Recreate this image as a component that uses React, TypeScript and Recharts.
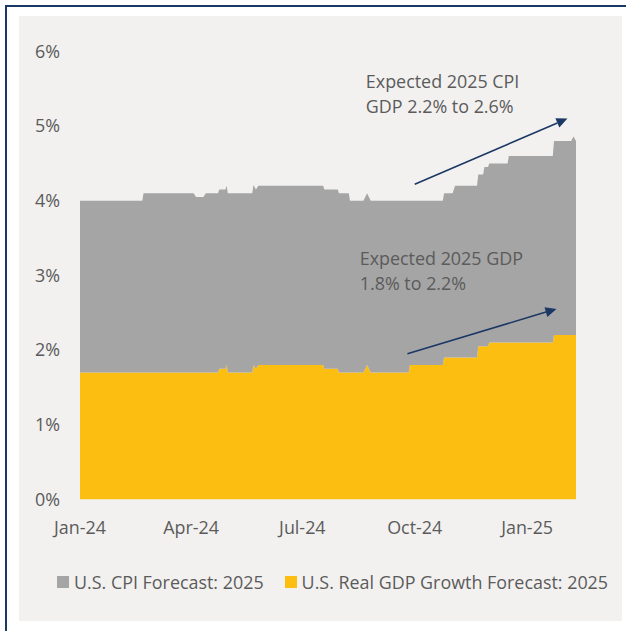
import React from 'react';
import { AreaChart, Area, XAxis, YAxis, Legend, ReferenceLine, ReferenceDot } from 'recharts';

// ---- data ----
const dates = [
  '2024-01-01', '2024-02-21', '2024-02-22', '2024-04-03', '2024-04-05', '2024-04-11', '2024-04-13',
  '2024-04-23', '2024-04-24', '2024-04-29', '2024-04-30', '2024-05-01', '2024-05-21', '2024-05-22',
  '2024-05-24', '2024-05-26', '2024-07-18', '2024-07-19', '2024-07-30', '2024-07-31', '2024-08-08',
  '2024-08-09', '2024-08-20', '2024-08-23', '2024-08-26', '2024-09-26', '2024-09-27', '2024-10-24',
  '2024-10-25', '2024-11-01', '2024-11-03', '2024-11-21', '2024-11-22', '2024-11-26', '2024-11-27',
  '2024-11-30', '2024-12-01', '2024-12-16', '2024-12-17', '2025-01-22', '2025-01-23', '2025-02-06',
  '2025-02-08', '2025-02-10',
];
const gdpForecast = [
  1.7, 1.7, 1.7, 1.7, 1.7, 1.7, 1.7,
  1.7, 1.75, 1.75, 1.8, 1.7, 1.7, 1.8,
  1.75, 1.8, 1.8, 1.75, 1.75, 1.7, 1.7,
  1.7, 1.7, 1.8, 1.7, 1.7, 1.8, 1.8,
  1.9, 1.9, 1.9, 1.9, 2.05, 2.05, 2.05,
  2.05, 2.1, 2.1, 2.1, 2.1, 2.2, 2.2,
  2.2, 2.2,
];
const cpiForecast = [
  2.3, 2.3, 2.4, 2.4, 2.35, 2.35, 2.4,
  2.4, 2.4, 2.4, 2.4, 2.4, 2.4, 2.41,
  2.4, 2.4, 2.4, 2.4, 2.4, 2.4, 2.4,
  2.3, 2.3, 2.3, 2.3, 2.3, 2.2, 2.2,
  2.2, 2.2, 2.3, 2.3, 2.3, 2.3, 2.4,
  2.4, 2.4, 2.4, 2.5, 2.5, 2.6, 2.6,
  2.66, 2.6,
];
const seriesNames = ['U.S. CPI Forecast: 2025', 'U.S. Real GDP Growth Forecast: 2025'];
const seriesColors = ['#A5A5A5', '#FDBE12'];
const tickDates = ['2024-01-01', '2024-04-01', '2024-07-01', '2024-10-01', '2025-01-01'];
const tickLabels = ['Jan-24', 'Apr-24', 'Jul-24', 'Oct-24', 'Jan-25'];
const yTicks = [0, 1, 2, 3, 4, 5, 6];
const xDomainDates = ['2024-01-01', '2025-02-10'];

const noteLines = [
  ['Expected 2025 CPI', 'GDP 2.2% to 2.6%'],
  ['Expected 2025 GDP', '1.8% to 2.2%'],
];
const noteDates = ['2024-08-22', '2024-08-17'];
const noteValues = [5.6, 3.22];
const arrowStartDates = ['2024-10-01', '2024-09-25'];
const arrowStartValues = [4.22, 1.95];
const arrowEndDates = ['2025-02-03', '2025-01-25'];
const arrowEndValues = [5.1, 2.55];

// ---- helpers ----
const ts = (d: string) => {
  const [y, m, day] = d.split('-').map(Number);
  return Date.UTC(y, m - 1, day);
};
const tableData = dates.map((d, i) => ({ t: ts(d), gdp: gdpForecast[i], cpi: cpiForecast[i] }));
const tickValues = tickDates.map(ts);
const tickText = (v: number) => {
  const i = tickValues.indexOf(v);
  return i >= 0 ? tickLabels[i] : '';
};

const TEXT = '#5B5B5B';
const NAVY = '#1B3764';
const FONT = "'Open Sans', 'Noto Sans', sans-serif";
const FS = 17.9;

const Arrow = (p: any) => {
  const { x1, y1, x2, y2 } = p;
  const dx = x2 - x1;
  const dy = y2 - y1;
  const len = Math.sqrt(dx * dx + dy * dy) || 1;
  const ux = dx / len;
  const uy = dy / len;
  const hl = 11;
  const hw = 5;
  const bx = x2 - ux * hl;
  const by = y2 - uy * hl;
  const pts = `${x2},${y2} ${bx - uy * hw},${by + ux * hw} ${bx + uy * hw},${by - ux * hw}`;
  return (
    <g>
      <line x1={x1} y1={y1} x2={bx} y2={by} stroke={NAVY} strokeWidth={1.6} />
      <polygon points={pts} fill={NAVY} />
    </g>
  );
};

const makeNote = (lines: string[]) => (p: any) => (
  <text x={p.cx} y={p.cy} fill={TEXT} fontSize={FS} fontFamily={FONT}>
    {lines.map((l, i) => (
      <tspan key={i} x={p.cx} dy={i === 0 ? '0.35em' : 25}>{l}</tspan>
    ))}
  </text>
);

const renderLegend = () => (
  <div style={{ display: 'flex', alignItems: 'center', fontFamily: FONT, fontSize: FS, color: TEXT, whiteSpace: 'nowrap' }}>
    {seriesNames.map((n, i) => (
      <div key={n} style={{ display: 'flex', alignItems: 'center', marginRight: 21 }}>
        <span style={{ display: 'inline-block', width: 12, height: 12, background: seriesColors[i], marginRight: 5 }} />
        <span>{n}</span>
      </div>
    ))}
  </div>
);

export default function App() {
  return (
    <div>
      <div style={{ position: 'fixed', left: 5, top: 5, width: 640, height: 640, borderTop: `2px solid ${NAVY}`, borderLeft: `2px solid ${NAVY}`, boxSizing: 'border-box' }} />
      <div style={{ position: 'fixed', left: 19, top: 16, width: 603, height: 605, background: '#F2F1F0' }} />
      <div style={{ position: 'fixed', left: 0, top: 0 }}>
        <AreaChart
          width={626}
          height={631}
          data={tableData}
          margin={{ top: 51.4, right: 50, bottom: 101.7, left: 0 }}
        >
          <XAxis
            dataKey="t"
            type="number"
            domain={xDomainDates.map(ts)}
            ticks={tickValues}
            tickFormatter={tickText}
            interval={0}
            axisLine={false}
            tickLine={false}
            tickSize={0}
            tickMargin={22}
            height={30}
            tick={{ fill: TEXT, fontSize: FS, fontFamily: FONT }}
          />
          <YAxis
            type="number"
            domain={[0, 6]}
            ticks={yTicks}
            tickFormatter={(v: number) => `${v}%`}
            interval={0}
            axisLine={false}
            tickLine={false}
            tickSize={0}
            tickMargin={20}
            width={80}
            tick={{ fill: TEXT, fontSize: FS, fontFamily: FONT }}
          />
          <Area
            type="linear"
            dataKey="gdp"
            name={seriesNames[1]}
            stackId="s"
            fill={seriesColors[1]}
            fillOpacity={1}
            stroke="none"
            isAnimationActive={false}
            dot={false}
            activeDot={false}
          />
          <Area
            type="linear"
            dataKey="cpi"
            name={seriesNames[0]}
            stackId="s"
            fill={seriesColors[0]}
            fillOpacity={1}
            stroke="none"
            isAnimationActive={false}
            dot={false}
            activeDot={false}
          />
          {arrowStartDates.map((d, i) => (
            <ReferenceLine
              key={'a' + i}
              segment={[
                { x: ts(d), y: arrowStartValues[i] },
                { x: ts(arrowEndDates[i]), y: arrowEndValues[i] },
              ]}
              stroke={NAVY}
              ifOverflow="visible"
              shape={Arrow}
            />
          ))}
          {noteDates.map((d, i) => (
            <ReferenceDot
              key={'n' + i}
              x={ts(d)}
              y={noteValues[i]}
              r={0}
              ifOverflow="visible"
              shape={makeNote(noteLines[i])}
            />
          ))}
          <Legend
            content={renderLegend}
            layout="horizontal"
            verticalAlign="middle"
            align="center"
            wrapperStyle={{ position: 'absolute', top: 570, left: 57, width: 565, height: 24 }}
          />
        </AreaChart>
      </div>
    </div>
  );
}
